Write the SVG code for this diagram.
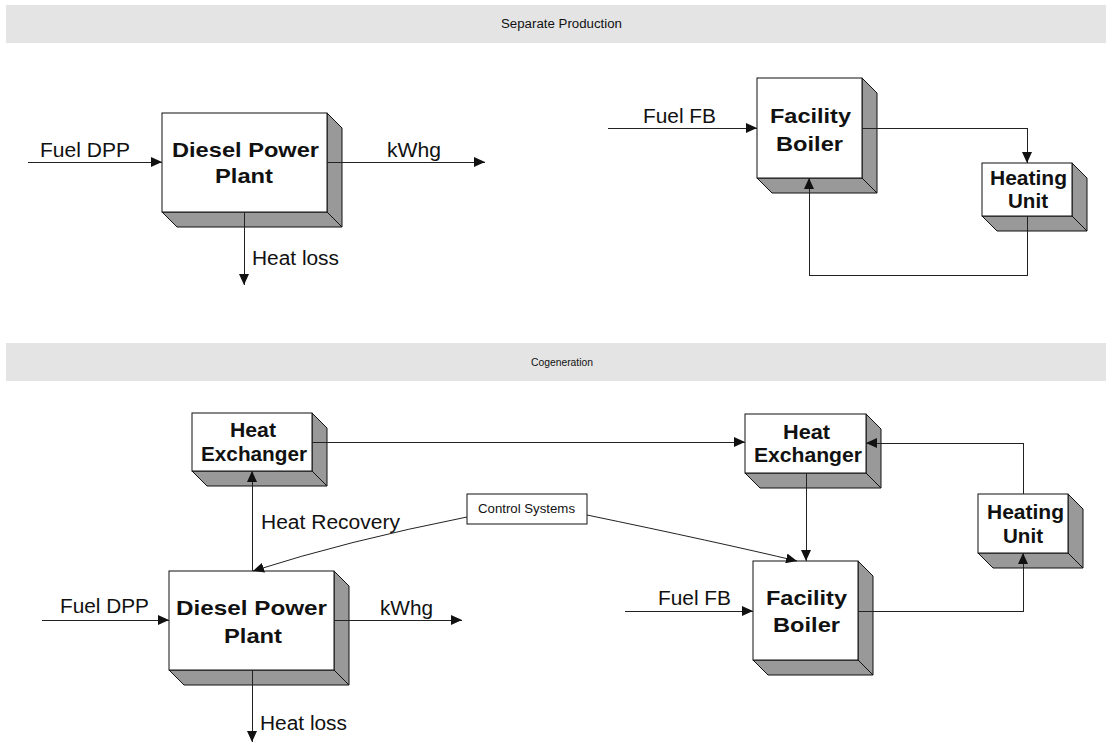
<svg xmlns="http://www.w3.org/2000/svg" width="1106" height="746" viewBox="0 0 1106 746">
<style>
.band{fill:#e4e4e4}
.front{fill:#fff;stroke:#111;stroke-width:1}
.side{fill:#999;stroke:#111;stroke-width:1;stroke-linejoin:miter}
.ln{fill:none;stroke:#222;stroke-width:1;shape-rendering:crispEdges}
.cv{fill:none;stroke:#222;stroke-width:1}
.t{font-family:"Liberation Sans",Arial,sans-serif;font-size:19.5px;fill:#111}
.b{font-family:"Liberation Sans",Arial,sans-serif;font-size:21px;font-weight:bold;fill:#111}
.s{font-family:"Liberation Sans",Arial,sans-serif;font-size:12.5px;fill:#111}
</style>
<defs>
<marker id="ah" markerUnits="userSpaceOnUse" markerWidth="11" markerHeight="10" refX="11" refY="5" orient="auto">
<path d="M0,0 L11,5 L0,10 z" fill="#111"/>
</marker>
</defs>

<rect class="band" x="6" y="5" width="1100" height="38"/>
<text class="s" x="501" y="28" textLength="121" lengthAdjust="spacingAndGlyphs">Separate Production</text>
<rect class="band" x="6" y="343" width="1100" height="38"/>
<text class="s" x="531" y="366" textLength="62" lengthAdjust="spacingAndGlyphs" style="font-size:11px">Cogeneration</text>

<g id="sep-dpp">
<polygon class="side" points="327,113 342,128 342,227 327,212"/>
<polygon class="side" points="162,212 327,212 342,227 177,227"/>
<rect class="front" x="162" y="113" width="165" height="99"/>
<text class="b" x="172" y="157" textLength="147" lengthAdjust="spacingAndGlyphs">Diesel Power</text>
<text class="b" x="215" y="183" textLength="58" lengthAdjust="spacingAndGlyphs">Plant</text>
</g>
<g id="sep-fb">
<polygon class="side" points="862,78 877,93 877,193 862,178"/>
<polygon class="side" points="757,178 862,178 877,193 772,193"/>
<rect class="front" x="757" y="78" width="105" height="100"/>
<text class="b" x="770" y="123" textLength="81" lengthAdjust="spacingAndGlyphs">Facility</text>
<text class="b" x="776" y="151" textLength="67" lengthAdjust="spacingAndGlyphs">Boiler</text>
</g>
<g id="sep-hu">
<polygon class="side" points="1072,163 1087,178 1087,231 1072,216"/>
<polygon class="side" points="982,216 1072,216 1087,231 997,231"/>
<rect class="front" x="982" y="163" width="90" height="53"/>
<text class="b" x="990" y="185" textLength="77" lengthAdjust="spacingAndGlyphs">Heating</text>
<text class="b" x="1008" y="208" textLength="40" lengthAdjust="spacingAndGlyphs">Unit</text>
</g>

<g id="cog-hx-left">
<polygon class="side" points="312,413 327,428 327,486 312,471"/>
<polygon class="side" points="192,471 312,471 327,486 207,486"/>
<rect class="front" x="192" y="413" width="120" height="58"/>
<text class="b" x="230" y="437" textLength="46" lengthAdjust="spacingAndGlyphs">Heat</text>
<text class="b" x="201" y="461" textLength="106" lengthAdjust="spacingAndGlyphs">Exchanger</text>
</g>
<g id="cog-hx-right">
<polygon class="side" points="866,414 881,429 881,488 866,473"/>
<polygon class="side" points="745,473 866,473 881,488 760,488"/>
<rect class="front" x="745" y="414" width="121" height="59"/>
<text class="b" x="783" y="439" textLength="47" lengthAdjust="spacingAndGlyphs">Heat</text>
<text class="b" x="754" y="462" textLength="108" lengthAdjust="spacingAndGlyphs">Exchanger</text>
</g>
<g id="cog-control">
<rect class="front" x="467" y="494" width="120" height="30"/>
<text class="s" x="478" y="513" textLength="97" lengthAdjust="spacingAndGlyphs">Control Systems</text>
</g>
<g id="cog-dpp">
<polygon class="side" points="334,571 349,586 349,685 334,670"/>
<polygon class="side" points="169,670 334,670 349,685 184,685"/>
<rect class="front" x="169" y="571" width="165" height="99"/>
<text class="b" x="176" y="615" textLength="151" lengthAdjust="spacingAndGlyphs">Diesel Power</text>
<text class="b" x="224" y="643" textLength="58" lengthAdjust="spacingAndGlyphs">Plant</text>
</g>
<g id="cog-fb">
<polygon class="side" points="858,561 873,576 873,675 858,660"/>
<polygon class="side" points="753,660 858,660 873,675 768,675"/>
<rect class="front" x="753" y="561" width="105" height="99"/>
<text class="b" x="766" y="605" textLength="81" lengthAdjust="spacingAndGlyphs">Facility</text>
<text class="b" x="773" y="632" textLength="67" lengthAdjust="spacingAndGlyphs">Boiler</text>
</g>
<g id="cog-hu">
<polygon class="side" points="1068,494 1083,509 1083,568 1068,553"/>
<polygon class="side" points="978,553 1068,553 1083,568 993,568"/>
<rect class="front" x="978" y="494" width="90" height="59"/>
<text class="b" x="987" y="519" textLength="77" lengthAdjust="spacingAndGlyphs">Heating</text>
<text class="b" x="1003" y="543" textLength="40" lengthAdjust="spacingAndGlyphs">Unit</text>
</g>

<g id="connectors">
<path class="ln" d="M28 162 H162" marker-end="url(#ah)"/>
<path class="ln" d="M327 162 H485" marker-end="url(#ah)"/>
<path class="ln" d="M244 212 V285" marker-end="url(#ah)"/>
<path class="ln" d="M608 128 H757" marker-end="url(#ah)"/>
<path class="ln" d="M862 128 H1027 V163" marker-end="url(#ah)"/>
<path class="ln" d="M1027 216 V275 H809 V178" marker-end="url(#ah)"/>

<path class="ln" d="M312 442 H745" marker-end="url(#ah)"/>
<path class="ln" d="M1023 494 V443 H866" marker-end="url(#ah)"/>
<path class="ln" d="M806 473 V561" marker-end="url(#ah)"/>
<path class="ln" d="M252 571 V471" marker-end="url(#ah)"/>
<path class="cv" d="M467 517 Q346 541 253 571" marker-end="url(#ah)"/>
<path class="cv" d="M587 515 Q717 542 797 561" marker-end="url(#ah)"/>
<path class="ln" d="M42 620 H169" marker-end="url(#ah)"/>
<path class="ln" d="M334 620 H462" marker-end="url(#ah)"/>
<path class="ln" d="M252 670 V742" marker-end="url(#ah)"/>
<path class="ln" d="M625 611 H753" marker-end="url(#ah)"/>
<path class="ln" d="M858 611 H1023 V553" marker-end="url(#ah)"/>
</g>

<g id="labels">
<text class="t" x="40" y="157" textLength="90" lengthAdjust="spacingAndGlyphs">Fuel DPP</text>
<text class="t" x="387" y="157" textLength="54" lengthAdjust="spacingAndGlyphs">kWhg</text>
<text class="t" x="252" y="265" textLength="87" lengthAdjust="spacingAndGlyphs">Heat loss</text>
<text class="t" x="643" y="123" textLength="73" lengthAdjust="spacingAndGlyphs">Fuel FB</text>
<text class="t" x="261" y="529" textLength="139" lengthAdjust="spacingAndGlyphs">Heat Recovery</text>
<text class="t" x="60" y="613" textLength="89" lengthAdjust="spacingAndGlyphs">Fuel DPP</text>
<text class="t" x="380" y="615" textLength="53" lengthAdjust="spacingAndGlyphs">kWhg</text>
<text class="t" x="260" y="730" textLength="87" lengthAdjust="spacingAndGlyphs">Heat loss</text>
<text class="t" x="658" y="605" textLength="73" lengthAdjust="spacingAndGlyphs">Fuel FB</text>
</g>
</svg>
